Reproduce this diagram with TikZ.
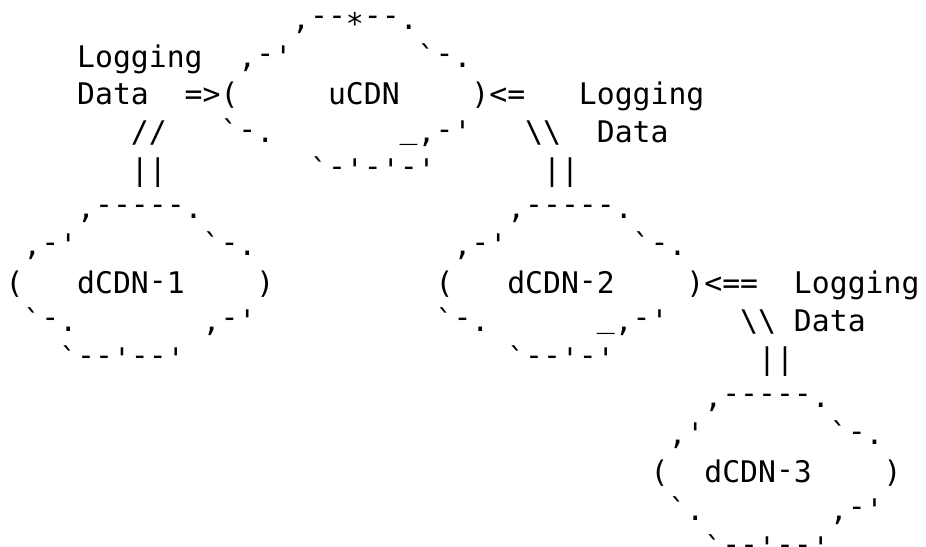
\documentclass[tikz,border=0pt]{standalone}
\usepackage{fontspec}
\setmonofont{DejaVu Sans Mono}
% hyphen and underscore set a little higher, as the reference's font draws them
\newcommand\hy{\raisebox{3.5bp}{-}}
\newcommand\us{\raisebox{4bp}{\_}}
\newcommand\frag[4]{\node[art] (#1) at ({5.5+#2*17.92},{-29.5-(#3-1)*37.75}) {#4};}
\begin{document}
\begin{tikzpicture}[x=1bp,y=1bp,
  art/.style={anchor=base west,inner sep=0pt,outer sep=0pt,
    font=\ttfamily\fontsize{29.88pt}{37.75bp}\selectfont,text=black}]
\fill[white] (0,0) rectangle (926,-547);
\useasboundingbox (0,0) rectangle (926,-547);
% line 1
\frag{u1}{16}{1}{,\hy\hy\raisebox{-5.5bp}{*}\hy\hy.}
% line 2
\frag{logA}{4}{2}{Logging}
\frag{u2l}{13}{2}{,\hy'}
\frag{u2r}{23}{2}{`\hy.}
% line 3
\frag{dataA}{4}{3}{Data}
\frag{u3l}{10}{3}{=>(}
\frag{ucdn}{18}{3}{uCDN}
\frag{u3r}{26}{3}{)<=}
\frag{logB}{32}{3}{Logging}
% line 4
\frag{c4a}{7}{4}{//}
\frag{u4l}{12}{4}{`\hy.}
\frag{u4r}{22}{4}{\us,\hy'}
\frag{c4b}{29}{4}{\textbackslash\textbackslash}
\frag{dataB}{33}{4}{Data}
% line 5
\frag{c5a}{7}{5}{||}
\frag{u5}{17}{5}{`\hy'\hy'\hy'}
\frag{c5b}{30}{5}{||}
% line 6
\frag{a6}{4}{6}{,\hy\hy\hy\hy\hy.}
\frag{b6}{28}{6}{,\hy\hy\hy\hy\hy.}
% line 7
\frag{a7l}{1}{7}{,\hy'}
\frag{a7r}{11}{7}{`\hy.}
\frag{b7l}{25}{7}{,\hy'}
\frag{b7r}{35}{7}{`\hy.}
% line 8
\frag{a8l}{0}{8}{(}
\frag{dcdnA}{4}{8}{dCDN\hy1}
\frag{a8r}{14}{8}{)}
\frag{b8l}{24}{8}{(}
\frag{dcdnB}{28}{8}{dCDN\hy2}
\frag{b8r}{38}{8}{)<==}
\frag{logC}{44}{8}{Logging}
% line 9
\frag{a9l}{1}{9}{`\hy.}
\frag{a9r}{11}{9}{,\hy'}
\frag{b9l}{24}{9}{`\hy.}
\frag{b9r}{33}{9}{\us,\hy'}
\frag{c9}{41}{9}{\textbackslash\textbackslash}
\frag{dataC}{44}{9}{Data}
% line 10
\frag{a10}{3}{10}{`\hy\hy'\hy\hy'}
\frag{b10}{28}{10}{`\hy\hy'\hy'}
\frag{c10}{42}{10}{||}
% line 11
\frag{d11}{39}{11}{,\hy\hy\hy\hy\hy.}
% line 12
\frag{d12l}{37}{12}{,'}
\frag{d12r}{46}{12}{`\hy.}
% line 13
\frag{d13l}{36}{13}{(}
\frag{dcdnC}{39}{13}{dCDN\hy3}
\frag{d13r}{49}{13}{)}
% line 14
\frag{d14l}{37}{14}{`.}
\frag{d14r}{46}{14}{,\hy'}
% line 15
\frag{d15}{39}{15}{`\hy\hy'\hy\hy'}
\end{tikzpicture}
\end{document}
